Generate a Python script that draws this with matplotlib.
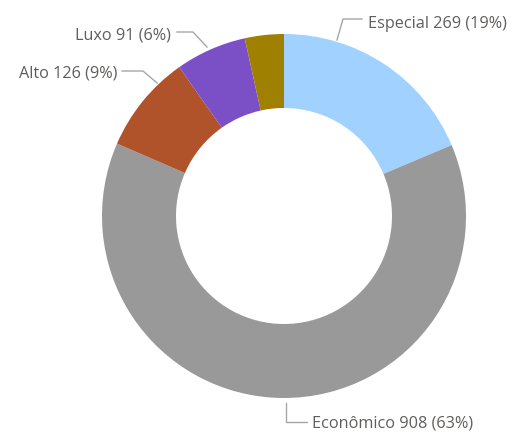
import numpy as np
import matplotlib.pyplot as plt

labels = ['Especial', 'Econômico', 'Alto', 'Luxo', 'Outros']
values = [269, 908, 126, 91, 50]
colors = ['#A0D1FF', '#999999', '#B0522A', '#7B50C6', '#A08000']
shown = [True, True, True, True, False]

W, H = 512, 433
cx, cy = 284, 216
r_out, r_in = 182, 108

# leader line layout (pixel coords): start, elbow, end, text x, baseline y, ha
leaders = {
    'Especial': [(337, 40), (343, 19), (362, 19), 368, 28, 'left'],
    'Econômico': [(286, 403), (286, 422), (307, 422), 312, 428, 'left'],
    'Alto': [(157, 83), (143, 71), (122, 71), 117, 77, 'right'],
    'Luxo': [(207, 47), (193, 32), (177, 32), 171, 39, 'right'],
}

fig = plt.figure(figsize=(W / 100, H / 100), dpi=100)
ax = fig.add_axes([0, 0, 1, 1])
ax.axis('off')


def py(y):
    return H - y


ax.pie(values, colors=colors, startangle=90, counterclock=False,
       center=(cx, py(cy)), radius=r_out,
       wedgeprops=dict(width=r_out - r_in, linewidth=0))
ax.set_xlim(0, W)
ax.set_ylim(0, H)
ax.set_aspect('equal')

total = sum(values)
for lab, v, s in zip(labels, values, shown):
    if not s:
        continue
    p0, p1, p2, tx, ty, ha = leaders[lab]
    ax.plot([p0[0], p1[0], p2[0]], [py(p0[1]), py(p1[1]), py(p2[1])],
            color='#A6A6A6', lw=1)
    pct = round(100 * v / total)
    fam = ['Liberation Sans Narrow', 'Open Sans'] if lab == 'Especial' else 'Open Sans'
    ax.text(tx, py(ty), f'{lab} {v} ({pct}%)', ha=ha, va='baseline',
            fontsize=11.7, color='#605E5C', family=fam)

fig.savefig('out.png', dpi=100)
